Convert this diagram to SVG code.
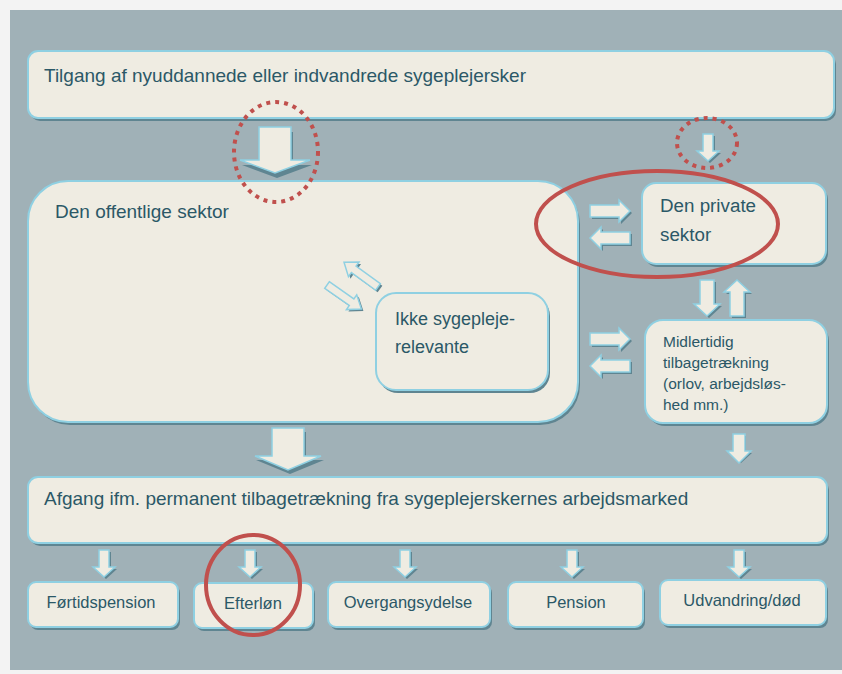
<svg xmlns="http://www.w3.org/2000/svg" width="842" height="674" viewBox="0 0 842 674">
<defs>
<style>
.box{fill:#efece2;stroke:#8fd0e2;stroke-width:2}
.sh{fill:#5f8591}
.arr{fill:#efece2;stroke:#8fd0e2;stroke-width:1.5}
.arrsh{fill:#5f8591}
.t{font-family:"Liberation Sans",Arial,sans-serif;fill:#2b5867}
.c{text-anchor:middle}
.red{fill:none;stroke:#c0504d;stroke-width:4}
.dot{fill:none;stroke:#c0504d;stroke-width:4;stroke-dasharray:4 5}
</style>
<path id="aS" d="M-5,0 H5 V17 H11 L0,27 L-11,17 H-5 Z"/>
<path id="aM" d="M-7,0 H7 V24 H13 L0,36 L-13,24 H-7 Z"/>
<path id="aR" d="M0,-6 H29 V-11 L40,0 L29,11 V6 H0 Z"/>
<path id="aD" d="M0,-4 H30 V-9 L42,0 L30,9 V4 H0 Z"/>
</defs>
<rect x="0" y="0" width="842" height="674" fill="#f3f3f3"/>
<rect x="10" y="10" width="832" height="660" fill="#a0b1b7"/>

<g id="tilgang">
  <rect class="sh" x="30" y="54" width="806" height="67" rx="10"/>
  <rect class="box" x="28" y="51" width="806" height="67" rx="10"/>
  <text class="t" x="44" y="82" font-size="19">Tilgang af nyuddannede eller indvandrede sygeplejersker</text>
</g>

<g id="offentlige">
  <rect class="sh" x="30" y="184" width="550" height="241" rx="40"/>
  <rect class="box" x="28" y="181" width="550" height="241" rx="40"/>
  <text class="t" x="55" y="218" font-size="19">Den offentlige sektor</text>
</g>

<g id="ikke">
  <rect class="sh" x="378" y="296" width="172" height="97" rx="20"/>
  <rect class="box" x="376" y="293" width="172" height="97" rx="20"/>
  <text class="t" x="395" y="325" font-size="18">Ikke sygepleje-</text>
  <text class="t" x="395" y="353" font-size="18">relevante</text>
</g>

<g id="private">
  <rect class="sh" x="644" y="186" width="184" height="81" rx="14"/>
  <rect class="box" x="642" y="183" width="184" height="81" rx="14"/>
  <text class="t" x="660" y="212" font-size="18.8">Den private</text>
  <text class="t" x="660" y="241" font-size="18.8">sektor</text>
</g>

<g id="midlertidig">
  <rect class="sh" x="647" y="323" width="182" height="103" rx="18"/>
  <rect class="box" x="645" y="320" width="182" height="103" rx="18"/>
  <text class="t" x="663" y="347" font-size="15.5">Midlertidig</text>
  <text class="t" x="663" y="368" font-size="15.5">tilbagetrækning</text>
  <text class="t" x="663" y="389" font-size="15.5">(orlov, arbejdsløs-</text>
  <text class="t" x="663" y="410" font-size="15.5">hed mm.)</text>
</g>

<g id="afgang">
  <rect class="sh" x="30" y="480" width="799" height="66" rx="10"/>
  <rect class="box" x="28" y="477" width="799" height="66" rx="10"/>
  <text class="t" x="44" y="505" font-size="19">Afgang ifm. permanent tilbagetrækning fra sygeplejerskernes arbejdsmarked</text>
</g>

<g id="fortidspension">
  <rect class="sh" x="30" y="585" width="150" height="45" rx="8"/>
  <rect class="box" x="28" y="582" width="150" height="45" rx="8"/>
  <text class="t c" x="101" y="608" font-size="16.5">Førtidspension</text>
</g>
<g id="efterlon">
  <rect class="sh" x="196" y="586" width="119" height="45" rx="8"/>
  <rect class="box" x="194" y="583" width="119" height="45" rx="8"/>
  <text class="t c" x="253" y="609" font-size="16.5">Efterløn</text>
</g>
<g id="overgangsydelse">
  <rect class="sh" x="330" y="585" width="162" height="45" rx="8"/>
  <rect class="box" x="328" y="582" width="162" height="45" rx="8"/>
  <text class="t c" x="408" y="608" font-size="16.5">Overgangsydelse</text>
</g>
<g id="pension">
  <rect class="sh" x="510" y="585" width="135" height="45" rx="8"/>
  <rect class="box" x="508" y="582" width="135" height="45" rx="8"/>
  <text class="t c" x="576" y="608" font-size="16.5">Pension</text>
</g>
<g id="udvandring">
  <rect class="sh" x="662" y="583" width="166" height="45" rx="8"/>
  <rect class="box" x="660" y="580" width="166" height="45" rx="8"/>
  <text class="t c" x="742" y="606" font-size="16.5">Udvandring/død</text>
</g>

<g id="connectors">
  <!-- top big arrow -->
  <path class="arrsh" d="M259,130 H291 V163 H310 L275,176 L240,163 H259 Z" transform="translate(2,2)"/>
  <path class="arr" d="M259,127 H291 V160 H310 L275,173 L240,160 H259 Z"/>
  <!-- top small arrow right -->
  <use href="#aS" class="arrsh" transform="translate(710,136)"/>
  <use href="#aS" class="arr" transform="translate(708,134)"/>
  <!-- big arrow down to Afgang -->
  <path class="arrsh" d="M272,430 H304 V458 H322 L288,472 L254,458 H272 Z" transform="translate(2,2)"/>
  <path class="arr" d="M272,428 H304 V456 H321 L288,470 L255,456 H272 Z"/>
  <!-- private <-> offentlige -->
  <use href="#aR" class="arrsh" transform="translate(592,213)"/>
  <use href="#aR" class="arr" transform="translate(590,211)"/>
  <use href="#aR" class="arrsh" transform="translate(632,240) rotate(180)"/>
  <use href="#aR" class="arr" transform="translate(630,238) rotate(180)"/>
  <!-- midlertidig <-> offentlige -->
  <use href="#aR" class="arrsh" transform="translate(592,341)"/>
  <use href="#aR" class="arr" transform="translate(590,339)"/>
  <use href="#aR" class="arrsh" transform="translate(632,368) rotate(180)"/>
  <use href="#aR" class="arr" transform="translate(630,366) rotate(180)"/>
  <!-- private <-> midlertidig -->
  <use href="#aM" class="arrsh" transform="translate(709,282)"/>
  <use href="#aM" class="arr" transform="translate(707,280)"/>
  <use href="#aM" class="arrsh" transform="translate(739,318) rotate(180)"/>
  <use href="#aM" class="arr" transform="translate(737,316) rotate(180)"/>
  <!-- midlertidig down -->
  <use href="#aS" class="arrsh" transform="translate(741,436)"/>
  <path class="arr" d="M733,434 H745 V451 H751 L739,463 L727,451 H733 Z"/>
  <!-- diagonal arrows inside offentlige -->
  <use href="#aD" class="arrsh" transform="translate(380,289) rotate(216)"/>
  <use href="#aD" class="arr" transform="translate(378,287) rotate(216)"/>
  <use href="#aD" class="arrsh" transform="translate(329,287) rotate(35)"/>
  <use href="#aD" class="arr" transform="translate(327,285) rotate(35)"/>
  <!-- bottom small arrows -->
  <use href="#aS" class="arrsh" transform="translate(106,552)"/>
  <use href="#aS" class="arr" transform="translate(104,550)"/>
  <use href="#aS" class="arrsh" transform="translate(252,552)"/>
  <use href="#aS" class="arr" transform="translate(250,550)"/>
  <use href="#aS" class="arrsh" transform="translate(407,552)"/>
  <use href="#aS" class="arr" transform="translate(405,550)"/>
  <use href="#aS" class="arrsh" transform="translate(574,552)"/>
  <use href="#aS" class="arr" transform="translate(572,550)"/>
  <use href="#aS" class="arrsh" transform="translate(741,552)"/>
  <use href="#aS" class="arr" transform="translate(739,550)"/>
</g>

<g id="highlights">
  <ellipse class="dot" cx="276" cy="152" rx="42" ry="50"/>
  <ellipse class="dot" cx="707" cy="143" rx="30" ry="25"/>
  <ellipse class="red" cx="657" cy="224" rx="121" ry="53"/>
  <ellipse class="red" cx="253" cy="585" rx="47" ry="50"/>
</g>
</svg>
